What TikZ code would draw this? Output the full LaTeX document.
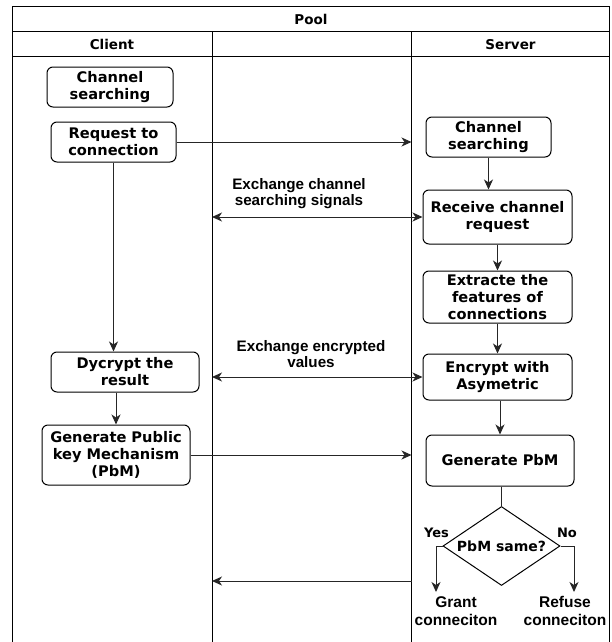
\documentclass[tikz,border=0pt]{standalone}
\usepackage{fontspec}
\setmainfont{DejaVu Sans}
\newfontfamily\lblfont{Liberation Sans}
\usetikzlibrary{shapes.geometric,arrows.meta}

\begin{document}
\begin{tikzpicture}[x=1pt,y=-1pt,
  lane/.style={line width=1pt, draw=black},
  headtext/.style={font=\bfseries\fontsize{13.5}{16}\selectfont, inner sep=0pt},
  stepbox/.style={draw=black, rounded corners=6pt, line width=1pt, inner sep=0pt,
    align=center, font=\bfseries\fontsize{14.6}{17}\selectfont},
  decision/.style={draw=black, diamond, line width=1pt, inner sep=0pt,
    minimum width=117pt, minimum height=79pt},
  msgtext/.style={align=center, inner sep=0pt, font=\lblfont\bfseries\fontsize{15.2}{16}\selectfont},
  endtext/.style={align=center, inner sep=0pt, font=\lblfont\bfseries\fontsize{15.5}{17.5}\selectfont},
  branchtext/.style={inner sep=0pt, font=\bfseries\fontsize{13}{15}\selectfont},
  arrowtip/.tip={Stealth[length=10pt,width=9pt,inset=3pt]},
  flow/.style={line width=1pt, draw=black!85, -arrowtip},
  both/.style={line width=1pt, draw=black!85, arrowtip-arrowtip},
  plain/.style={line width=1pt, draw=black!85}
]
\useasboundingbox (0,0) rectangle (611,642);

% swimlane frame
\draw[lane] (12.7,642) -- (12.7,7) -- (609.5,7) -- (609.5,642);
\draw[lane] (12.7,32) -- (609.5,32);
\draw[lane] (12.7,57) -- (609.5,57);
\draw[lane] (212,32) -- (212,642);
\draw[lane] (411.5,32) -- (411.5,642);

\node[headtext] (pool) at (311,19.5) {Pool};
\node[headtext] (client) at (112,44.5) {Client};
\node[headtext] (server) at (510.5,44.5) {Server};

% client lane
\node[stepbox, minimum width=126pt, minimum height=40pt] (cs1) at (110,87) {Channel\\searching};
\node[stepbox, minimum width=125pt, minimum height=40pt] (req) at (113.5,142) {Request to\\connection};
\node[stepbox, minimum width=148pt, minimum height=40pt] (dyc) at (125,372) {Dycrypt the\\result};
\node[stepbox, minimum width=148pt, minimum height=60pt] (gpk) at (116,455) {Generate Public\\key Mechanism\\(PbM)};

% server lane
\node[stepbox, minimum width=125pt, minimum height=40pt] (cs2) at (488.5,137) {Channel\\searching};
\node[stepbox, minimum width=149pt, minimum height=54pt] (rcv) at (497.5,217) {Receive channel\\request};
\node[stepbox, minimum width=149pt, minimum height=52pt] (ext) at (497.5,297) {Extracte the\\features of\\connections};
\node[stepbox, minimum width=149pt, minimum height=46pt] (enc) at (497.5,377) {Encrypt with\\Asymetric};
\node[stepbox, minimum width=148pt, minimum height=51pt] (gpb) at (500,460.5) {Generate PbM};
\node[decision] (dia) at (501.5,546) {};
\node[branchtext, font=\bfseries\fontsize{14}{16}\selectfont] (diatext) at (dia.center) {PbM same?};

\node[branchtext] (yes) at (436.5,533) {Yes};
\node[branchtext] (no) at (567,533) {No};
\node[endtext] (grant) at (456,611) {Grant\\conneciton};
\node[endtext] (refuse) at (565,611) {Refuse\\conneciton};

% points on the lane borders
\coordinate (sd1) at (411.5,142);
\coordinate (sd2) at (411.5,455);
\coordinate (sd3) at (411.5,581);
\coordinate (cd1) at (212,217);
\coordinate (cd2) at (212,377);
\coordinate (cd3) at (212,581);
\coordinate (gtip) at (436,592);
\coordinate (rtip) at (574,592);

% messages between lanes
\node[msgtext] (m1) at (299,194) {Exchange channel\\searching signals};
\node[msgtext] (m2) at (311,354) {Exchange encrypted\\values};

\draw[flow] (req.east) -- (sd1);
\draw[flow] (gpk.east |- sd2) -- (sd2);
\draw[both] (cd1) -- (rcv.west);
\draw[both] (cd2) -- (enc.west);
\draw[flow] (sd3) -- (cd3);

% client flow
\draw[flow] (req.south) -- (req.south |- dyc.north);
\draw[flow] (gpk.north |- dyc.south) -- (gpk.north);

% server flow
\draw[flow] (cs2.south) -- (cs2.south |- rcv.north);
\draw[flow] (rcv.south) -- (ext.north);
\draw[flow] (ext.south) -- (enc.north);
\draw[flow] (gpb.north |- enc.south) -- (gpb.north);
\draw[plain] (dia.north |- gpb.south) -- (dia.north);
\draw[flow] (dia.west) -| (gtip);
\draw[flow] (dia.east) -| (rtip);
\end{tikzpicture}
\end{document}
